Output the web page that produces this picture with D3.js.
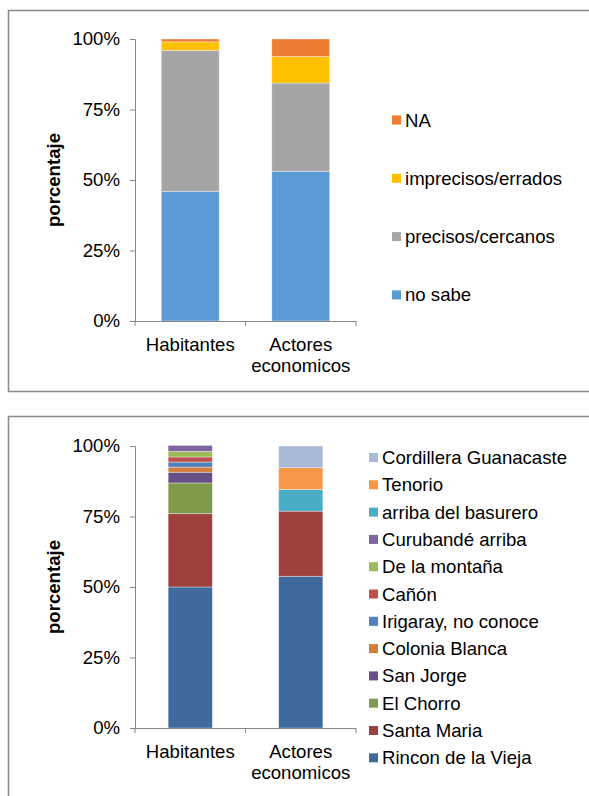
<!DOCTYPE html>
<html>
<head>
<meta charset="utf-8">
<script src="https://cdn.jsdelivr.net/npm/d3@7"></script>
<style>
  html, body { margin: 0; padding: 0; background: #fff; }
  svg { display: block; font-family: "Liberation Sans", Arial, sans-serif; }
</style>
</head>
<body>
<svg id="chart" width="589" height="796"></svg>
<script>
// ---- Data ----
const categories = ["Habitantes", "Actores economicos"];
const tickValues = [0, 25, 50, 75, 100];
const tickLabels = ["0%", "25%", "50%", "75%", "100%"];
const yTitle = "porcentaje";

// Top chart series (bottom → top of stack)
const topSeriesNames = ["no sabe", "precisos/cercanos", "imprecisos/errados", "NA"];
const topNoSabe     = [46.0, 53.1];
const topPrecisos   = [50.0, 31.3];
const topImprecisos = [3.0, 9.4];
const topNA         = [1.0, 6.2];
const topColors = ["#5B9BD5", "#A5A5A5", "#FFC000", "#ED7D31"];

// Bottom chart series (bottom → top of stack)
const bottomSeriesNames = ["Rincon de la Vieja", "Santa Maria", "El Chorro", "San Jorge",
  "Colonia Blanca", "Irigaray, no conoce", "Cañón", "De la montaña", "Curubandé arriba",
  "arriba del basurero", "Tenorio", "Cordillera Guanacaste"];
const bottomHabitantes = [50.0, 26.0, 10.9, 3.8, 1.8, 1.8, 1.8, 2.0, 2.1, 0, 0, 0];
const bottomActores    = [53.8, 23.1, 0, 0, 0, 0, 0, 0, 0, 7.7, 7.7, 7.7];
const bottomColors = ["#406A9C", "#9E413E", "#7F9A4A", "#664F86", "#D27D38", "#4F81BD",
  "#C0504D", "#9BBB59", "#8064A2", "#4BACC6", "#F79646", "#A9B9D8"];

// ---- Drawing ----
const svg = d3.select("#chart");
const FONT = 18.6;

function drawPanel(opts) {
  const g = svg.append("g");
  // Panel border
  g.append("rect")
    .attr("x", 8.5).attr("y", opts.boxTop)
    .attr("width", 700).attr("height", opts.boxHeight)
    .attr("fill", "none").attr("stroke", "#8a8a8a").attr("stroke-width", 1.5);

  const x = d3.scaleBand().domain(categories)
    .range([opts.x0, opts.x1]).paddingInner(opts.pad).paddingOuter(opts.pad / 2);
  const y = d3.scaleLinear().domain([0, 100]).range([opts.y0, opts.y100]);

  // Stack data
  const rows = categories.map((c, i) => {
    const r = { cat: c };
    opts.series.forEach((s, k) => { r[s] = opts.values[k][i]; });
    return r;
  });
  const stacked = d3.stack().keys(opts.series)(rows);

  g.selectAll("g.layer").data(stacked).join("g")
    .attr("class", "layer")
    .attr("fill", (d, i) => opts.colors[i])
    .selectAll("rect").data(d => d).join("rect")
      .attr("x", d => x(d.data.cat))
      .attr("width", x.bandwidth())
      .attr("y", d => y(d[1]))
      .attr("height", d => Math.max(0, y(d[0]) - y(d[1])))
      .attr("stroke", "rgba(255,255,255,0.45)")
      .attr("stroke-width", d => (d[1] - d[0]) > 0 ? 0.8 : 0);

  // Y axis
  const yAxis = d3.axisLeft(y).tickValues(tickValues)
    .tickFormat((d, i) => tickLabels[i]).tickSize(5).tickPadding(10);
  const ya = g.append("g").attr("transform", `translate(${opts.x0},0)`).call(yAxis);
  ya.select(".domain").attr("stroke", "#868686");
  ya.selectAll(".tick line").attr("stroke", "#868686");
  ya.selectAll(".tick text").attr("font-size", FONT).attr("fill", "#000")
    .attr("font-family", "Liberation Sans, Arial, sans-serif");

  // X axis line with ticks at band edges
  const xa = g.append("g");
  xa.append("line").attr("x1", opts.x0).attr("x2", opts.x1)
    .attr("y1", opts.y0 + 0.5).attr("y2", opts.y0 + 0.5)
    .attr("stroke", "#868686");
  const edges = [opts.x0, (opts.x0 + opts.x1) / 2, opts.x1];
  xa.selectAll("line.tk").data(edges).join("line").attr("class", "tk")
    .attr("x1", d => d).attr("x2", d => d)
    .attr("y1", opts.y0).attr("y2", opts.y0 + 5)
    .attr("stroke", "#868686");

  // Category labels (wrapped)
  const catLines = { "Habitantes": ["Habitantes"], "Actores economicos": ["Actores", "economicos"] };
  categories.forEach(c => {
    const t = g.append("text")
      .attr("x", x(c) + x.bandwidth() / 2)
      .attr("y", opts.y0 + 30)
      .attr("text-anchor", "middle")
      .attr("font-size", FONT).attr("fill", "#000");
    catLines[c].forEach((ln, i) => {
      t.append("tspan").attr("x", x(c) + x.bandwidth() / 2)
        .attr("dy", i === 0 ? 0 : 21).text(ln);
    });
  });

  // Y title
  g.append("text")
    .attr("transform", `translate(${60},${(opts.y0 + opts.y100) / 2}) rotate(-90)`)
    .attr("text-anchor", "middle")
    .attr("font-size", FONT).attr("font-weight", "bold").attr("fill", "#000")
    .text(yTitle);

  // Legend (top item is last series)
  const legendItems = opts.series.map((s, i) => ({ name: s, color: opts.colors[i] })).reverse();
  const lg = g.append("g");
  legendItems.forEach((it, i) => {
    const cy = opts.legY0 + i * opts.legStep;
    lg.append("rect").attr("x", opts.legX).attr("y", cy - 4.5)
      .attr("width", 9).attr("height", 9).attr("fill", it.color);
    lg.append("text").attr("x", opts.legX + 13).attr("y", cy)
      .attr("dy", "0.35em").attr("font-size", FONT).attr("fill", "#000")
      .text(it.name);
  });
}

drawPanel({
  boxTop: 10.5, boxHeight: 381,
  x0: 135, x1: 356, pad: 0.476,
  y0: 321, y100: 39,
  series: topSeriesNames,
  values: [topNoSabe, topPrecisos, topImprecisos, topNA],
  colors: topColors,
  legX: 392, legY0: 120, legStep: 58.3
});

drawPanel({
  boxTop: 416.5, boxHeight: 500,
  x0: 135, x1: 356, pad: 0.6,
  y0: 728, y100: 446,
  series: bottomSeriesNames,
  values: bottomSeriesNames.map((s, k) => [bottomHabitantes[k], bottomActores[k]]),
  colors: bottomColors,
  legX: 369, legY0: 457.5, legStep: 27.3
});
</script>
</body>
</html>
